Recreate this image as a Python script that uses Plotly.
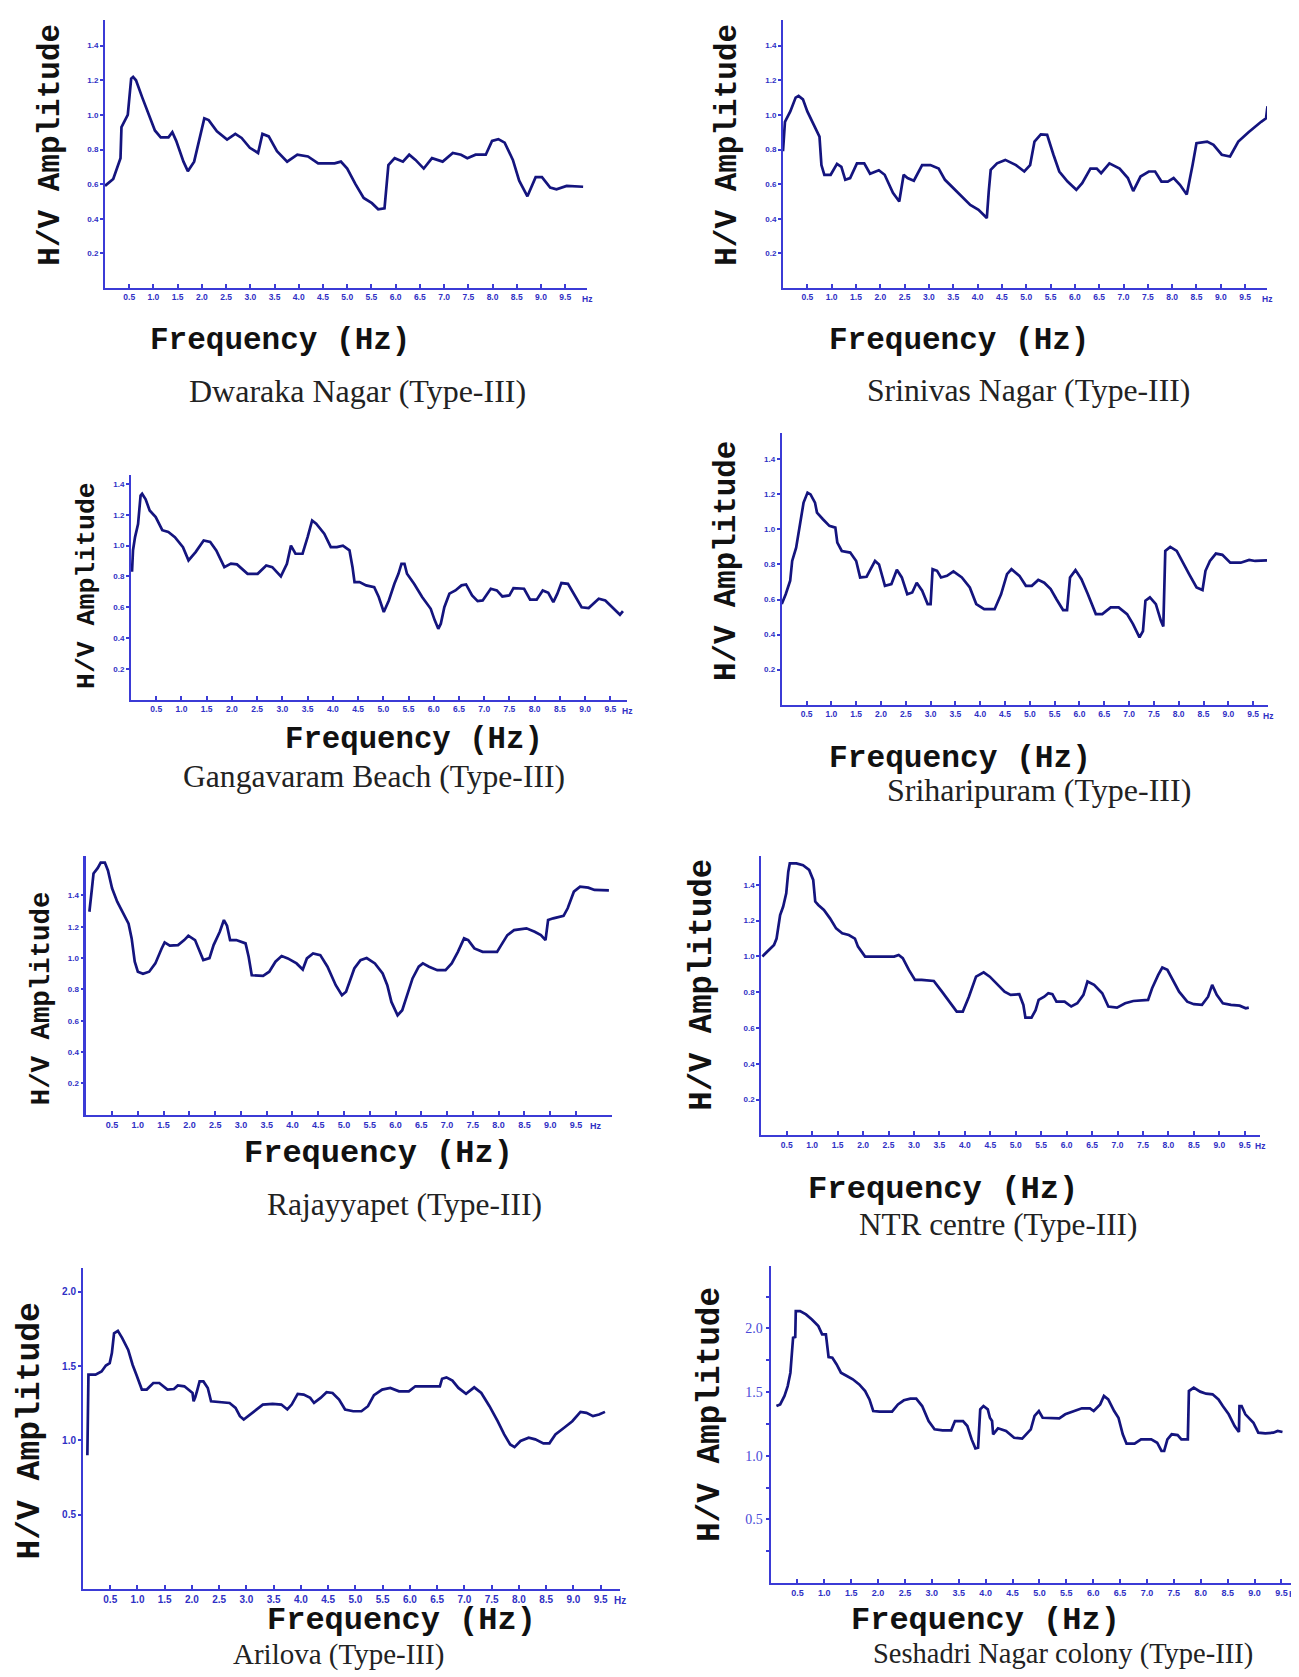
import plotly.graph_objects as go

# ---------------- data ----------------
f_dwaraka = [0.0, 0.17, 0.32, 0.34, 0.47, 0.54, 0.58, 0.64, 0.77, 0.9, 1.03, 1.15, 1.31, 1.39, 1.47, 1.62, 1.71, 1.84, 1.97, 2.05, 2.14, 2.31, 2.52, 2.69, 2.82, 2.99, 3.16, 3.25, 3.38, 3.55, 3.76, 3.97, 4.19, 4.4, 4.74, 4.87, 5.0, 5.17, 5.34, 5.51, 5.64, 5.77, 5.85, 5.98, 6.15, 6.28, 6.41, 6.58, 6.75, 6.97, 7.18, 7.35, 7.48, 7.65, 7.86, 7.99, 8.12, 8.25, 8.42, 8.55, 8.72, 8.89, 9.02, 9.19, 9.32, 9.53, 9.87]
a_dwaraka = [0.59, 0.63, 0.75, 0.93, 1.0, 1.21, 1.22, 1.2, 1.1, 1.0, 0.91, 0.87, 0.87, 0.9, 0.85, 0.73, 0.675, 0.73, 0.89, 0.98, 0.97, 0.905, 0.857, 0.89, 0.867, 0.81, 0.78, 0.89, 0.876, 0.79, 0.73, 0.77, 0.76, 0.72, 0.72, 0.73, 0.69, 0.6, 0.52, 0.49, 0.455, 0.46, 0.71, 0.75, 0.73, 0.77, 0.74, 0.69, 0.75, 0.73, 0.78, 0.77, 0.75, 0.77, 0.77, 0.85, 0.86, 0.84, 0.74, 0.62, 0.53, 0.64, 0.64, 0.58, 0.57, 0.59, 0.585]

f_srinivas = [0.0, 0.04, 0.15, 0.26, 0.32, 0.41, 0.5, 0.64, 0.75, 0.79, 0.85, 0.98, 1.11, 1.2, 1.28, 1.38, 1.52, 1.67, 1.79, 1.97, 2.09, 2.26, 2.39, 2.48, 2.56, 2.69, 2.86, 3.03, 3.2, 3.33, 3.5, 3.68, 3.85, 4.02, 4.19, 4.23, 4.27, 4.4, 4.57, 4.79, 4.96, 5.08, 5.17, 5.3, 5.43, 5.56, 5.68, 5.85, 6.03, 6.15, 6.32, 6.45, 6.54, 6.71, 6.92, 7.09, 7.2, 7.35, 7.52, 7.65, 7.78, 7.91, 8.03, 8.16, 8.3, 8.42, 8.5, 8.72, 8.85, 9.02, 9.19, 9.36, 9.57, 9.83, 9.93, 9.96]
a_srinivas = [0.79, 0.96, 1.02, 1.1, 1.11, 1.09, 1.02, 0.94, 0.875, 0.71, 0.654, 0.654, 0.717, 0.7, 0.625, 0.635, 0.72, 0.72, 0.66, 0.68, 0.654, 0.55, 0.5, 0.654, 0.635, 0.62, 0.71, 0.71, 0.69, 0.625, 0.577, 0.53, 0.48, 0.452, 0.404, 0.558, 0.683, 0.72, 0.74, 0.71, 0.673, 0.71, 0.846, 0.888, 0.885, 0.77, 0.673, 0.615, 0.567, 0.606, 0.69, 0.69, 0.663, 0.72, 0.69, 0.635, 0.56, 0.644, 0.673, 0.673, 0.615, 0.615, 0.635, 0.596, 0.54, 0.71, 0.836, 0.846, 0.827, 0.77, 0.76, 0.846, 0.9, 0.96, 0.98, 1.05]

f_gangavaram = [0.02, 0.04, 0.08, 0.14, 0.19, 0.22, 0.29, 0.37, 0.49, 0.62, 0.74, 0.87, 1.03, 1.14, 1.28, 1.44, 1.57, 1.69, 1.85, 1.98, 2.1, 2.31, 2.51, 2.68, 2.8, 2.97, 3.09, 3.17, 3.26, 3.4, 3.5, 3.59, 3.67, 3.83, 3.96, 4.08, 4.2, 4.33, 4.39, 4.43, 4.53, 4.66, 4.82, 4.91, 5.01, 5.11, 5.22, 5.3, 5.36, 5.42, 5.47, 5.61, 5.77, 5.94, 6.02, 6.09, 6.14, 6.21, 6.31, 6.43, 6.55, 6.64, 6.76, 6.87, 6.97, 7.13, 7.25, 7.36, 7.5, 7.58, 7.79, 7.91, 8.04, 8.16, 8.27, 8.37, 8.45, 8.53, 8.66, 8.78, 8.93, 9.07, 9.27, 9.4, 9.56, 9.69, 9.75]
a_gangavaram = [0.83, 0.97, 1.055, 1.14, 1.325, 1.336, 1.3, 1.228, 1.185, 1.1, 1.088, 1.055, 0.99, 0.904, 0.958, 1.033, 1.023, 0.969, 0.86, 0.883, 0.878, 0.817, 0.817, 0.871, 0.86, 0.8, 0.882, 1.0, 0.947, 0.947, 1.055, 1.163, 1.142, 1.077, 0.99, 0.99, 1.0, 0.969, 0.86, 0.763, 0.763, 0.742, 0.73, 0.666, 0.569, 0.644, 0.752, 0.817, 0.882, 0.882, 0.817, 0.752, 0.666, 0.59, 0.515, 0.46, 0.493, 0.6, 0.688, 0.709, 0.742, 0.748, 0.677, 0.64, 0.644, 0.72, 0.709, 0.67, 0.677, 0.724, 0.72, 0.649, 0.649, 0.709, 0.694, 0.633, 0.688, 0.757, 0.752, 0.688, 0.6, 0.595, 0.655, 0.644, 0.59, 0.551, 0.575]

f_sriharipuram = [0.0, 0.08, 0.17, 0.21, 0.29, 0.37, 0.44, 0.52, 0.58, 0.67, 0.71, 0.83, 0.96, 1.08, 1.12, 1.21, 1.38, 1.5, 1.58, 1.71, 1.88, 1.96, 2.08, 2.21, 2.32, 2.42, 2.53, 2.63, 2.72, 2.83, 2.94, 3.0, 3.04, 3.13, 3.21, 3.33, 3.46, 3.63, 3.79, 3.92, 4.08, 4.29, 4.42, 4.54, 4.63, 4.79, 4.92, 5.04, 5.17, 5.29, 5.42, 5.54, 5.67, 5.75, 5.81, 5.92, 6.04, 6.17, 6.33, 6.46, 6.63, 6.79, 6.96, 7.08, 7.21, 7.28, 7.33, 7.42, 7.54, 7.64, 7.69, 7.73, 7.83, 7.96, 8.08, 8.21, 8.36, 8.48, 8.54, 8.63, 8.75, 8.88, 9.04, 9.25, 9.42, 9.54, 9.78]
a_sriharipuram = [0.574, 0.63, 0.707, 0.82, 0.896, 1.03, 1.153, 1.21, 1.2, 1.153, 1.096, 1.058, 1.02, 1.01, 0.925, 0.877, 0.868, 0.82, 0.726, 0.73, 0.82, 0.8, 0.678, 0.688, 0.77, 0.726, 0.63, 0.64, 0.696, 0.65, 0.574, 0.574, 0.773, 0.764, 0.726, 0.735, 0.76, 0.726, 0.669, 0.574, 0.545, 0.545, 0.63, 0.745, 0.773, 0.735, 0.678, 0.678, 0.712, 0.696, 0.66, 0.6, 0.54, 0.54, 0.726, 0.768, 0.716, 0.63, 0.517, 0.517, 0.555, 0.555, 0.517, 0.46, 0.384, 0.42, 0.593, 0.612, 0.574, 0.48, 0.446, 0.877, 0.9, 0.877, 0.81, 0.745, 0.669, 0.654, 0.764, 0.82, 0.862, 0.855, 0.81, 0.81, 0.826, 0.82, 0.823]

f_rajayyapet = [0.06, 0.08, 0.11, 0.14, 0.22, 0.28, 0.36, 0.42, 0.5, 0.6, 0.7, 0.82, 0.88, 0.94, 1.0, 1.1, 1.22, 1.34, 1.46, 1.52, 1.62, 1.78, 1.9, 1.98, 2.11, 2.21, 2.27, 2.39, 2.47, 2.59, 2.67, 2.73, 2.79, 2.91, 3.09, 3.15, 3.21, 3.43, 3.55, 3.67, 3.79, 3.91, 4.08, 4.2, 4.28, 4.4, 4.54, 4.68, 4.84, 4.96, 5.04, 5.2, 5.32, 5.44, 5.6, 5.75, 5.84, 5.92, 6.04, 6.13, 6.21, 6.33, 6.45, 6.53, 6.65, 6.81, 6.97, 7.09, 7.21, 7.33, 7.41, 7.53, 7.69, 7.97, 8.05, 8.17, 8.3, 8.54, 8.7, 8.82, 8.91, 8.96, 9.06, 9.26, 9.34, 9.46, 9.58, 9.74, 9.86, 10.14]
a_rajayyapet = [1.296, 1.38, 1.446, 1.54, 1.574, 1.61, 1.61, 1.56, 1.446, 1.36, 1.296, 1.22, 1.126, 0.977, 0.913, 0.9, 0.913, 0.966, 1.06, 1.1, 1.08, 1.083, 1.115, 1.143, 1.115, 1.04, 0.987, 1.0, 1.083, 1.168, 1.243, 1.207, 1.115, 1.115, 1.094, 1.009, 0.89, 0.887, 0.913, 0.977, 1.013, 0.998, 0.966, 0.927, 0.998, 1.03, 1.019, 0.945, 0.827, 0.763, 0.785, 0.934, 0.987, 1.0, 0.966, 0.902, 0.827, 0.72, 0.635, 0.667, 0.753, 0.87, 0.945, 0.966, 0.945, 0.923, 0.923, 0.966, 1.04, 1.126, 1.115, 1.062, 1.04, 1.04, 1.083, 1.147, 1.179, 1.19, 1.168, 1.147, 1.115, 1.243, 1.254, 1.27, 1.318, 1.424, 1.456, 1.45, 1.435, 1.433]

f_ntr = [0.02, 0.08, 0.16, 0.25, 0.3, 0.37, 0.43, 0.49, 0.53, 0.56, 0.69, 0.82, 0.94, 1.02, 1.06, 1.12, 1.23, 1.35, 1.47, 1.59, 1.72, 1.84, 1.9, 2.04, 2.33, 2.61, 2.7, 2.78, 2.9, 3.02, 3.15, 3.39, 3.55, 3.72, 3.84, 3.96, 4.08, 4.22, 4.37, 4.49, 4.66, 4.78, 4.9, 5.07, 5.15, 5.19, 5.31, 5.39, 5.45, 5.56, 5.64, 5.72, 5.8, 5.96, 6.09, 6.21, 6.33, 6.41, 6.54, 6.7, 6.82, 6.99, 7.15, 7.31, 7.6, 7.68, 7.8, 7.88, 7.98, 8.09, 8.21, 8.37, 8.5, 8.66, 8.78, 8.86, 8.95, 9.07, 9.23, 9.4, 9.52, 9.58]
a_ntr = [1.0, 1.018, 1.036, 1.064, 1.1, 1.232, 1.279, 1.353, 1.474, 1.52, 1.52, 1.51, 1.484, 1.428, 1.307, 1.288, 1.26, 1.213, 1.157, 1.13, 1.12, 1.1, 1.055, 0.999, 0.999, 0.999, 1.008, 0.99, 0.925, 0.869, 0.869, 0.863, 0.803, 0.738, 0.692, 0.692, 0.775, 0.887, 0.911, 0.887, 0.841, 0.803, 0.785, 0.789, 0.729, 0.658, 0.658, 0.7, 0.757, 0.775, 0.794, 0.789, 0.747, 0.747, 0.72, 0.738, 0.785, 0.86, 0.841, 0.794, 0.72, 0.714, 0.738, 0.751, 0.757, 0.822, 0.897, 0.938, 0.925, 0.869, 0.803, 0.747, 0.733, 0.729, 0.775, 0.841, 0.785, 0.738, 0.729, 0.725, 0.71, 0.714]

f_arilova = [0.08, 0.1, 0.23, 0.34, 0.42, 0.49, 0.53, 0.57, 0.64, 0.72, 0.83, 0.91, 0.98, 1.08, 1.17, 1.29, 1.4, 1.55, 1.67, 1.74, 1.86, 1.93, 2.01, 2.03, 2.06, 2.1, 2.14, 2.21, 2.29, 2.35, 2.5, 2.69, 2.8, 2.88, 2.95, 3.07, 3.18, 3.3, 3.48, 3.64, 3.75, 3.83, 3.94, 4.05, 4.17, 4.24, 4.36, 4.47, 4.58, 4.7, 4.81, 4.96, 5.11, 5.23, 5.34, 5.49, 5.64, 5.8, 5.98, 6.1, 6.29, 6.55, 6.59, 6.67, 6.78, 6.89, 7.03, 7.12, 7.18, 7.31, 7.46, 7.61, 7.73, 7.84, 7.92, 8.03, 8.18, 8.3, 8.45, 8.56, 8.67, 8.83, 8.98, 9.13, 9.24, 9.36, 9.47, 9.58]
a_arilova = [0.9, 1.442, 1.442, 1.464, 1.504, 1.52, 1.587, 1.721, 1.737, 1.688, 1.609, 1.509, 1.442, 1.342, 1.342, 1.386, 1.386, 1.342, 1.346, 1.37, 1.364, 1.342, 1.319, 1.263, 1.29, 1.342, 1.397, 1.397, 1.353, 1.263, 1.259, 1.252, 1.219, 1.163, 1.14, 1.174, 1.208, 1.241, 1.246, 1.241, 1.208, 1.241, 1.313, 1.308, 1.286, 1.252, 1.286, 1.324, 1.319, 1.275, 1.208, 1.196, 1.196, 1.23, 1.304, 1.342, 1.353, 1.33, 1.33, 1.364, 1.364, 1.364, 1.415, 1.424, 1.402, 1.353, 1.313, 1.342, 1.357, 1.319, 1.23, 1.129, 1.04, 0.973, 0.955, 0.996, 1.018, 1.007, 0.98, 0.98, 1.04, 1.085, 1.129, 1.192, 1.185, 1.163, 1.174, 1.192]

f_seshadri = [0.11, 0.18, 0.26, 0.32, 0.37, 0.39, 0.42, 0.46, 0.47, 0.55, 0.66, 0.77, 0.89, 0.96, 1.03, 1.08, 1.15, 1.23, 1.31, 1.42, 1.53, 1.65, 1.76, 1.84, 1.91, 2.03, 2.26, 2.37, 2.48, 2.6, 2.71, 2.82, 2.94, 3.05, 3.2, 3.36, 3.43, 3.58, 3.66, 3.74, 3.81, 3.86, 3.9, 3.96, 4.04, 4.08, 4.12, 4.14, 4.23, 4.38, 4.53, 4.68, 4.84, 4.91, 4.99, 5.06, 5.22, 5.37, 5.48, 5.63, 5.79, 5.94, 6.01, 6.13, 6.2, 6.28, 6.39, 6.47, 6.55, 6.62, 6.77, 6.89, 7.08, 7.19, 7.27, 7.32, 7.38, 7.46, 7.57, 7.64, 7.76, 7.78, 7.87, 7.99, 8.1, 8.22, 8.33, 8.41, 8.52, 8.63, 8.71, 8.72, 8.76, 8.83, 8.98, 9.07, 9.2, 9.35, 9.43, 9.52]
a_seshadri = [1.39, 1.403, 1.469, 1.547, 1.652, 1.796, 1.927, 1.932, 2.136, 2.136, 2.11, 2.07, 2.018, 1.953, 1.953, 1.775, 1.77, 1.717, 1.652, 1.626, 1.6, 1.56, 1.508, 1.442, 1.351, 1.346, 1.346, 1.403, 1.435, 1.448, 1.448, 1.39, 1.272, 1.207, 1.199, 1.199, 1.272, 1.272, 1.233, 1.128, 1.058, 1.063, 1.364, 1.39, 1.364, 1.298, 1.272, 1.168, 1.215, 1.194, 1.141, 1.134, 1.207, 1.312, 1.351, 1.298, 1.293, 1.293, 1.325, 1.346, 1.372, 1.372, 1.351, 1.403, 1.469, 1.442, 1.351, 1.298, 1.168, 1.094, 1.094, 1.128, 1.128, 1.102, 1.037, 1.037, 1.128, 1.168, 1.162, 1.128, 1.128, 1.508, 1.534, 1.503, 1.487, 1.482, 1.442, 1.39, 1.325, 1.233, 1.186, 1.39, 1.39, 1.325, 1.259, 1.181, 1.175, 1.181, 1.194, 1.186]

x_ticks = [0.5, 1.0, 1.5, 2.0, 2.5, 3.0, 3.5, 4.0, 4.5, 5.0, 5.5, 6.0, 6.5, 7.0, 7.5, 8.0, 8.5, 9.0, 9.5]
y_ticks_small = [0.2, 0.4, 0.6, 0.8, 1.0, 1.2, 1.4]
y_ticks_big = [0.5, 1.0, 1.5, 2.0]
y_ticks_quarter = [0.25, 0.5, 0.75, 1.0, 1.25, 1.5, 1.75, 2.0, 2.25]
captions = ["Dwaraka Nagar (Type-III)", "Srinivas Nagar (Type-III)",
            "Gangavaram Beach (Type-III)", "Sriharipuram (Type-III)",
            "Rajayyapet (Type-III)", "NTR centre (Type-III)",
            "Arilova (Type-III)", "Seshadri Nagar colony (Type-III)"]

# ---------------- layout (figure pixels -> paper fractions) ----------------
W, H = 1299, 1677


def px(x):
    return x / W


def py(y):
    return 1 - y / H


panels = [
    dict(f=f_dwaraka, a=a_dwaraka, xd=(97, 579), yd=(280, 11.7), xr=9.95, yr=1.55, yt="small", xfs=8.5, hz=None,
         ytl=(41.7, 137, 31), freq=(272, 333, 31), cap=(349, 383, 32)),
    dict(f=f_srinivas, a=a_srinivas, xd=(775, 1259), yd=(280, 11.7), xr=9.95, yr=1.55, yt="small", xfs=8.5, hz=None,
         ytl=(718.75, 137, 31), freq=(950.8, 333, 31), cap=(1020, 383, 31.7)),
    dict(f=f_gangavaram, a=a_gangavaram, xd=(123, 619), yd=(691.7, 466.7), xr=9.83, yr=1.46, yt="small", xfs=8.5, hz=None,
         ytl=(79, 578, 26.5), freq=(406, 731.7, 30.7), cap=(366, 768, 31.6)),
    dict(f=f_sriharipuram, a=a_sriharipuram, xd=(773.75, 1260), yd=(696.7, 425), xr=9.8, yr=1.55, yt="small", xfs=8.5, hz=None,
         ytl=(718.75, 553.3, 30.8), freq=(952, 750, 31.2), cap=(1031, 781.7, 32)),
    dict(f=f_rajayyapet, a=a_rajayyapet, xd=(78.3, 604), yd=(1106.7, 848.3), xr=10.2, yr=1.65, yt="small", xfs=9, hz=9.88,
         ytl=(33.3, 990, 27.4), freq=(370, 1145, 32), cap=(396.7, 1196.7, 31.5)),
    dict(f=f_ntr, a=a_ntr, xd=(753.3, 1252), yd=(1127.3, 848.3), xr=9.8, yr=1.56, yt="small", xfs=8.5, hz=None,
         ytl=(693.75, 977, 32.3), freq=(935.4, 1181.7, 32.2), cap=(989.6, 1216.7, 31.2)),
    dict(f=f_arilova, a=a_arilova, xd=(75, 611.7), yd=(1581, 1260), xr=9.85, yr=2.16, yt="big", xfs=10, hz=None,
         ytl=(22.9, 1422.7, 33), freq=(393.75, 1612, 32), cap=(330, 1646, 29)),
    dict(f=f_seshadri, a=a_seshadri, xd=(762.5, 1296), yd=(1575, 1258), xr=9.92, yr=2.49, yt="quarter", xfs=9, hz=9.76,
         ytl=(702, 1407, 32.7), freq=(977, 1612, 32), cap=(1055, 1646, 28.5)),
]

AXIS_BLUE = "#3b3bd6"
TICK_BLUE = "#2f2fc4"
CURVE = "#14147e"
MONO = "Liberation Mono, Courier New, monospace"
SERIF = "Liberation Serif, Times New Roman, serif"
NARROW = "Liberation Sans Narrow, Arial Narrow, Liberation Sans, Arial, sans-serif"

fig = go.Figure()
annotations = []
layout_axes = {}

for i, p in enumerate(panels):
    n = i + 1
    xa = "x" if n == 1 else f"x{n}"
    ya = "y" if n == 1 else f"y{n}"
    xkey = "xaxis" if n == 1 else f"xaxis{n}"
    ykey = "yaxis" if n == 1 else f"yaxis{n}"

    fig.add_trace(go.Scatter(x=p["f"], y=p["a"], mode="lines", xaxis=xa, yaxis=ya,
                             line=dict(color=CURVE, width=2.7), showlegend=False,
                             hoverinfo="skip"))

    xfont = dict(family=NARROW, size=p["xfs"], color=TICK_BLUE, weight="bold")
    layout_axes[xkey] = dict(
        domain=[px(p["xd"][0]), min(px(p["xd"][1]), 1.0)], anchor=ya,
        range=[0, p["xr"]], showgrid=False, zeroline=False,
        showline=True, linecolor=AXIS_BLUE, linewidth=2.2,
        tickmode="array", tickvals=x_ticks, ticktext=[f"{v:.1f}" for v in x_ticks],
        ticks="inside", ticklen=4, tickcolor=AXIS_BLUE, tickwidth=1.5,
        tickfont=xfont, fixedrange=True)

    if p["yt"] == "small":
        yv = y_ticks_small
        yt = [f"{v:.1f}" for v in yv]
        yfont = dict(family=NARROW, size=8, color=TICK_BLUE, weight="bold")
    elif p["yt"] == "big":
        yv = y_ticks_big
        yt = [f"{v:.1f}" for v in yv]
        yfont = dict(family=NARROW, size=10, color=TICK_BLUE, weight="bold")
    else:
        yv = y_ticks_quarter
        yt = [f"{v:.1f}" if abs(v * 2 - round(v * 2)) < 1e-9 and v < 2.2 else "" for v in yv]
        yfont = dict(family=SERIF, size=14, color="#4a4ad8")

    layout_axes[ykey] = dict(
        domain=[py(p["yd"][0]), py(p["yd"][1])], anchor=xa,
        range=[0, p["yr"]], showgrid=False, zeroline=False,
        showline=True, linecolor=AXIS_BLUE, linewidth=2.6 if n == 5 else 2.0,
        tickmode="array", tickvals=yv, ticktext=yt,
        ticks="outside", ticklen=3, tickcolor=AXIS_BLUE, tickwidth=1.5,
        tickfont=yfont, fixedrange=True)

    # "Hz" at end of x-axis
    if p["hz"] is None:
        hz = dict(xref=f"{xa} domain", x=1.0, xanchor="center")
    else:
        hz = dict(xref=xa, x=p["hz"], xanchor="center")
    annotations.append(dict(text="Hz", yref=f"{ya} domain", y=0, yanchor="top", yshift=-4,
                            showarrow=False, font=xfont, **hz))
    # Frequency (Hz)
    fx, fy, fs = p["freq"]
    annotations.append(dict(text="Frequency (Hz)", xref="paper", yref="paper",
                            x=px(fx), y=py(fy), xanchor="center", yanchor="middle",
                            showarrow=False,
                            font=dict(family=MONO, size=fs, color="#111111", weight="bold")))
    # y title
    tx, ty, ts = p["ytl"]
    annotations.append(dict(text="H/V Amplitude", xref="paper", yref="paper",
                            x=px(tx), y=py(ty), xanchor="center", yanchor="middle",
                            textangle=-90, showarrow=False,
                            font=dict(family=MONO, size=ts, color="#111111", weight="bold")))
    # caption
    cx, cy, cs = p["cap"]
    annotations.append(dict(text=captions[i], xref="paper", yref="paper",
                            x=px(cx), y=py(cy), xanchor="center", yanchor="middle",
                            showarrow=False,
                            font=dict(family=SERIF, size=cs, color="#222222")))

fig.update_layout(width=W, height=H, margin=dict(l=0, r=0, t=0, b=0),
                  paper_bgcolor="white", plot_bgcolor="white",
                  annotations=annotations, **layout_axes)

fig.write_html("out.html")
